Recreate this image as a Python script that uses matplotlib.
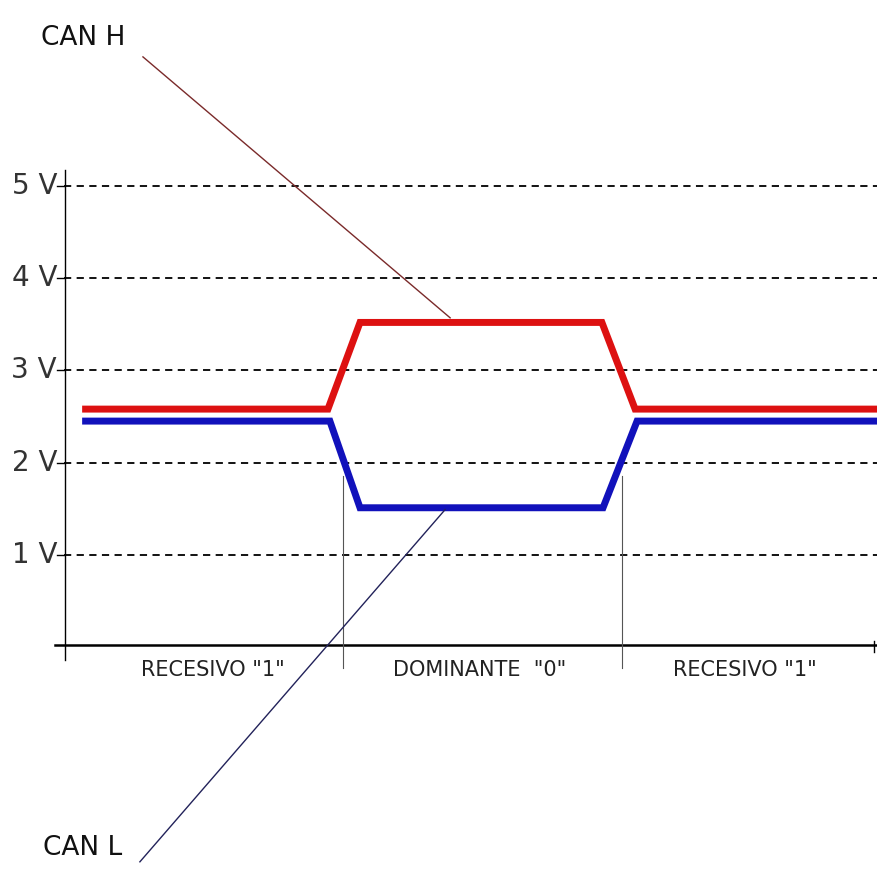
import matplotlib
matplotlib.use('Agg')
import matplotlib.pyplot as plt

'''Niveles de tension del bus CAN: CAN H y CAN L'''

# tiempo en bits, tension en voltios
canh_t = [0.065, 0.946, 1.061, 1.928, 2.047, 2.918]
canh_v = [2.58, 2.58, 3.52, 3.52, 2.58, 2.58]
canl_t = [0.065, 0.953, 1.061, 1.932, 2.054, 2.918]
canl_v = [2.45, 2.45, 1.51, 1.51, 2.45, 2.45]

niveles = [1, 2, 3, 4, 5]
etiquetas_v = ['1 V', '2 V', '3 V', '4 V', '5 V']
limites_bit = [1, 2]
bits = ['RECESIVO "1"', 'DOMINANTE  "0"', 'RECESIVO "1"']

plt.rcParams['font.family'] = ['DejaVu Sans']

fig = plt.figure(figsize=(8.78, 8.77), dpi=100)
ax = fig.add_axes((0, 0, 1, 1))
ax.set_xlim(-0.2294, 2.9176)
ax.set_ylim(-2.4946, 7.017)
ax.axis('off')

# rejilla discontinua y marcas del eje
for v, txt in zip(niveles, etiquetas_v):
    ax.plot([0, 2.92], [v, v], color='k', lw=1.3, ls=(0, (4, 3)))
    ax.plot([-0.025, 0], [v, v], color='k', lw=1)
    ax.text(-0.025, v, txt, ha='right', va='center', fontsize=20, color='#333333')

# ejes
ax.plot([0.004, 0.004], [5.17, -0.14], color='k', lw=1)
ax.plot([-0.032, 2.92], [0.02, 0.02], color='k', lw=1.8)
ax.plot([2.905, 2.905], [0.07, -0.05], color='k', lw=1)

# limites de bit
for b in limites_bit:
    ax.plot([b, b], [1.85, -0.23], color='#555555', lw=0.8)

centros = [0.534, 1.49, 2.44]
for c, txt in zip(centros, bits):
    ax.text(c, -0.25, txt, ha='center', va='center', fontsize=15, color='#222222')

# senales
ax.plot(canh_t, canh_v, color='#dd1111', lw=5, solid_joinstyle='miter', solid_capstyle='butt')
ax.plot(canl_t, canl_v, color='#1111bb', lw=5, solid_joinstyle='miter', solid_capstyle='butt')

# indicadores
ax.plot([0.283, 1.384], [6.40, 3.57], color='#7a2a2a', lw=1)
ax.plot([0.272, 1.366], [-2.33, 1.49], color='#22225a', lw=1)
ax.text(0.068, 6.61, 'CAN H', ha='center', va='center', fontsize=19, color='#111111')
ax.text(0.068, -2.18, 'CAN L', ha='center', va='center', fontsize=19, color='#111111')

fig.savefig('out.png', dpi=100)
